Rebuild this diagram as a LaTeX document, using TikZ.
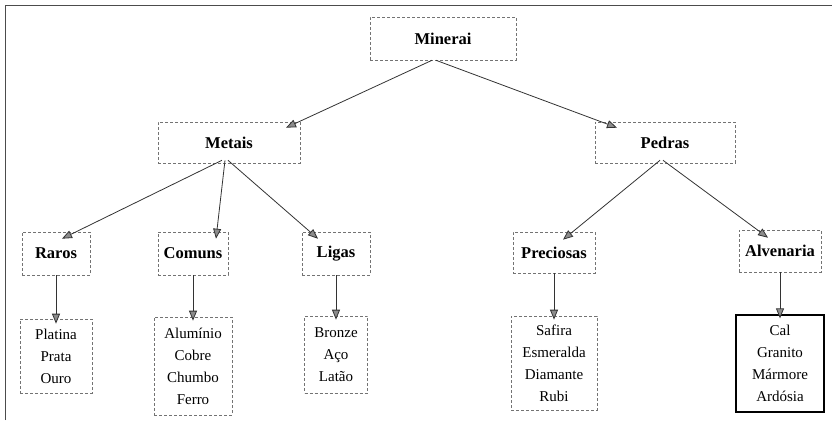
\documentclass[tikz,border=0pt]{standalone}
\usepackage{fontspec}
\setmainfont{Liberation Serif}
\usetikzlibrary{arrows.meta}
\begin{document}
\begin{tikzpicture}[x=1pt,y=-1pt,
  box/.style={draw=black!55,densely dashed,line width=0.6pt,inner sep=0pt,font=\fontsize{16.5}{19}\selectfont\bfseries},
  leaf/.style={draw=black!55,densely dashed,line width=0.6pt,inner sep=0pt,align=center,font=\fontsize{15}{22}\selectfont},
  conn/.style={draw=black!80,line width=0.8pt,-{Triangle[length=10pt,width=8pt,fill=black!45]}},
  frame/.style={draw=black!70,line width=0.6pt}]
\useasboundingbox (0,0) rectangle (832,425);
\coordinate (f1) at (5,420);
\coordinate (f2) at (5,5);
\coordinate (f3) at (832,5);
\draw[frame] (f1) -- (f2) -- (f3);
% level 0
\node[box,minimum width=146pt,minimum height=43pt] (min) at (443,38.5) {Minerai};
% level 1
\node[box,minimum width=142pt,minimum height=41pt] (met) at (229,142.5) {Metais};
\node[box,minimum width=140pt,minimum height=41pt] (ped) at (665,142.5) {Pedras};
% level 2
\node[box,minimum width=68pt,minimum height=43pt] (rar) at (56,253.5) {Raros};
\node[box,minimum width=70pt,minimum height=43pt] (com) at (193,253.5) {Comuns};
\node[box,minimum width=68pt,minimum height=43pt] (lig) at (336,253.5) {Ligas};
\node[box,minimum width=82pt,minimum height=41pt] (pre) at (554,252.5) {Preciosas};
\node[box,minimum width=82pt,minimum height=42pt] (alv) at (780,251) {Alvenaria};
% leaves
\node[leaf,minimum width=72pt,minimum height=74pt] (l1) at (56,356) {Platina\\Prata\\Ouro};
\node[leaf,minimum width=78pt,minimum height=98pt] (l2) at (193,366) {Alumínio\\Cobre\\Chumbo\\Ferro};
\node[leaf,minimum width=63pt,minimum height=77pt] (l3) at (336,354.5) {Bronze\\Aço\\Latão};
\node[leaf,minimum width=86pt,minimum height=94pt] (l4) at (554,363) {Safira\\Esmeralda\\Diamante\\Rubi};
\node[leaf,draw=black,solid,line width=1.2pt,minimum width=88pt,minimum height=97pt] (l5) at (780,363.5) {Cal\\Granito\\Mármore\\Ardósia};
% connectors
\draw[conn] ([xshift=-11pt]min.south) -- ([xshift=57pt,yshift=-6pt]met.north);
\draw[conn] ([xshift=-7pt]min.south) -- ([xshift=-48pt,yshift=-6pt]ped.north);
\draw[conn] ([xshift=-7pt,yshift=3pt]met.south) -- ([xshift=6pt,yshift=-7pt]rar.north);
\draw[conn] ([xshift=-4pt,yshift=3pt]met.south) -- ([xshift=23pt,yshift=-7pt]com.north);
\draw[conn] ([xshift=-1pt,yshift=3pt]met.south) -- ([xshift=-18pt,yshift=-7pt]lig.north);
\draw[conn] ([xshift=-5pt,yshift=3pt]ped.south) -- ([xshift=9pt,yshift=-8pt]pre.north);
\draw[conn] ([xshift=-2pt,yshift=3pt]ped.south) -- ([xshift=-12pt,yshift=-8pt]alv.north);
\draw[conn] (rar.south) -- ([yshift=-5pt]l1.north);
\draw[conn] (com.south) -- ([yshift=-4pt]l2.north);
\draw[conn] (lig.south) -- ([yshift=-4pt]l3.north);
\draw[conn] (pre.south) -- ([yshift=-4pt]l4.north);
\draw[conn] (alv.south) -- ([yshift=-4pt]l5.north);
\end{tikzpicture}
\end{document}
